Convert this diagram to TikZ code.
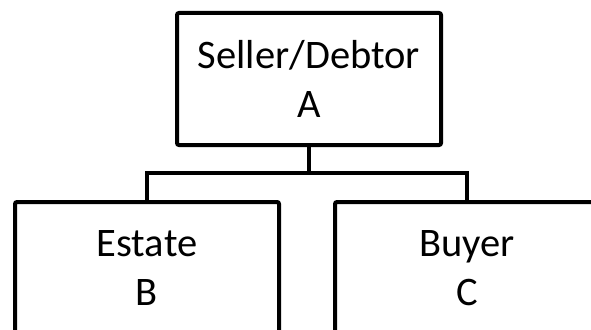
\documentclass[tikz,border=0pt]{standalone}
\usepackage{fontspec}
\setmainfont{Carlito}
\usetikzlibrary{positioning}

\begin{document}
\begin{tikzpicture}[x=1pt,y=-1pt,line width=4pt,
  party/.style={draw,rounded corners=2pt,inner sep=0pt,align=center,
    minimum width=264pt,minimum height=132pt,
    font=\fontsize{40.5}{49}\selectfont}]
  \clip (0,0) rectangle (591,329);
  \node[party] (seller) at (309,79) {Seller/Debtor\\A};
  \node[party] (estate) at (147,268) {Estate\\B};
  \node[party] (buyer) at (467,268) {Buyer\\C};
  \coordinate (split) at (309,173);
  \draw (seller.south) -- (split);
  \draw (estate.north) |- (split) -| (buyer.north);
\end{tikzpicture}
\end{document}
